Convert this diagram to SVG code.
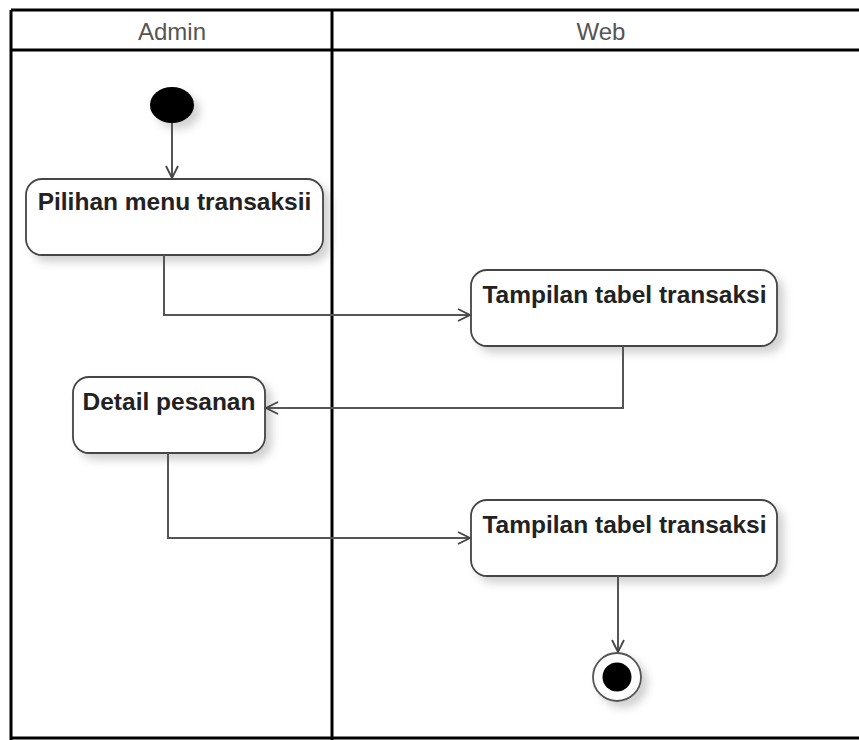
<svg xmlns="http://www.w3.org/2000/svg" width="859" height="740" viewBox="0 0 859 740">
  <style>
    .lane { fill: none; stroke: #000; stroke-width: 3; }
    .head { font-family: "Liberation Sans", Arial, sans-serif; font-size: 24px; fill: #555; text-anchor: middle; }
    .act rect { fill: #fff; stroke: #444; stroke-width: 1.8; }
    .act text { font-family: "Liberation Sans", Arial, sans-serif; font-weight: bold; font-size: 24.5px; fill: #222; text-anchor: middle; }
    .flow { fill: none; stroke: #555; stroke-width: 2; }
  </style>
  <defs>
    <filter id="shadow" x="-20%" y="-20%" width="150%" height="160%">
      <feDropShadow dx="6" dy="6" stdDeviation="4" flood-color="#000" flood-opacity="0.18"/>
    </filter>
    <marker id="open" viewBox="0 0 14 14" refX="13" refY="7" markerWidth="14" markerHeight="14" markerUnits="userSpaceOnUse" orient="auto">
      <path d="M1,1 L13,7 L1,13" fill="none" stroke="#444" stroke-width="1.8"/>
    </marker>
  </defs>
  <rect width="859" height="740" fill="#fff"/>

  <!-- swimlanes -->
  <g id="lanes">
    <path class="lane" d="M11,10 H870 M11,50 H870 M11,10 V740 M332,10 V740 M11,738 H870"/>
    <text class="head" x="172" y="40">Admin</text>
    <text class="head" x="601" y="40">Web</text>
  </g>

  <!-- initial node -->
  <g id="start">
    <ellipse cx="172" cy="105" rx="22" ry="18" fill="#000" filter="url(#shadow)"/>
  </g>

  <g id="pilihan" class="act">
    <rect x="26" y="179" width="297" height="76" rx="16" filter="url(#shadow)"/>
    <text x="174.5" y="210">Pilihan menu transaksii</text>
  </g>

  <g id="tampilan1" class="act">
    <rect x="471" y="270" width="306" height="76" rx="16" filter="url(#shadow)"/>
    <text x="624.5" y="303">Tampilan tabel transaksi</text>
  </g>

  <g id="detail" class="act">
    <rect x="73" y="377" width="192" height="76" rx="16" filter="url(#shadow)"/>
    <text x="169" y="410">Detail pesanan</text>
  </g>

  <g id="tampilan2" class="act">
    <rect x="471" y="500" width="306" height="76" rx="16" filter="url(#shadow)"/>
    <text x="624.5" y="533">Tampilan tabel transaksi</text>
  </g>

  <!-- final node -->
  <g id="end">
    <circle cx="617" cy="677" r="24" fill="#fff" stroke="#555" stroke-width="1.8" filter="url(#shadow)"/>
    <circle cx="617" cy="677" r="14.5" fill="#000"/>
  </g>

  <!-- control flows -->
  <g id="connectors">
    <path class="flow" d="M172,123 V178" marker-end="url(#open)"/>
    <path class="flow" d="M164,255 V315 H470" marker-end="url(#open)"/>
    <path class="flow" d="M623,346 V408 H266" marker-end="url(#open)"/>
    <path class="flow" d="M168,453 V538 H470" marker-end="url(#open)"/>
    <path class="flow" d="M618,576 V652" marker-end="url(#open)"/>
  </g>
</svg>
